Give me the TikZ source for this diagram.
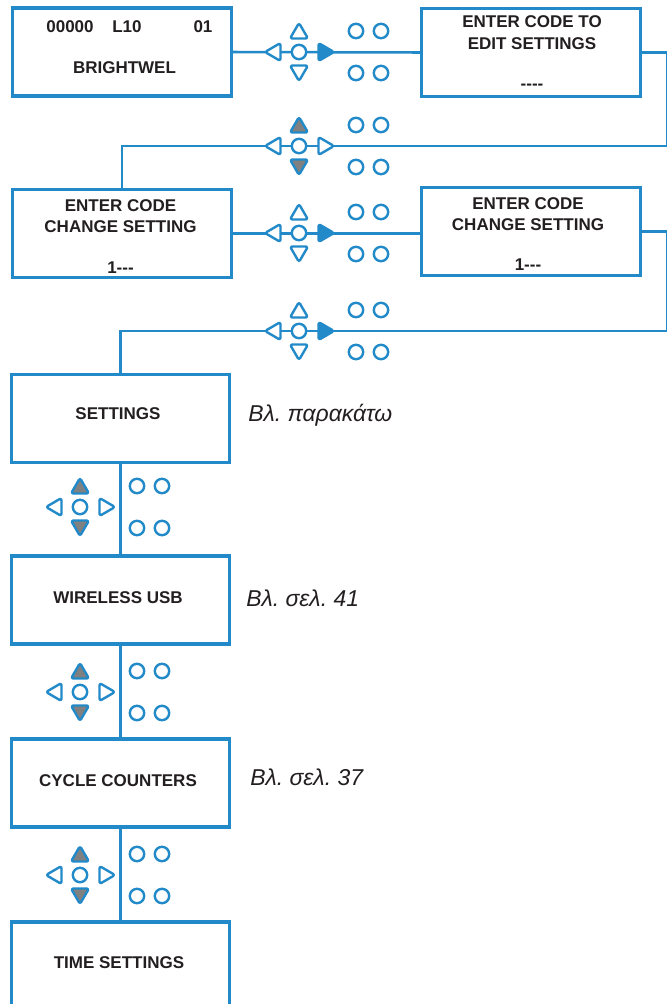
\documentclass[tikz,border=0pt]{standalone}
\usepackage{fontspec}
\setmainfont{Liberation Sans}
\frenchspacing
\definecolor{panelblue}{RGB}{34,138,200}
\definecolor{keygray}{RGB}{128,128,128}
\definecolor{ink}{RGB}{35,31,32}
\tikzset{
  box/.style={draw=panelblue,line width=2.3pt,fill=white,minimum width=164pt,minimum height=66pt,inner sep=0pt},
  wire/.style={draw=panelblue,line width=1.9pt},
  key/.style={draw=panelblue,line width=1.8pt,rounded corners=1.8pt,line join=round},
  txt/.style={font=\bfseries\fontsize{12.75}{14}\selectfont,text=ink,inner sep=0pt,anchor=base},
  note/.style={font=\itshape\fontsize{17.2}{19}\selectfont,text=ink,inner sep=0pt,anchor=base west},
}
% keypad: name, x, y, fill up, fill down, fill right
\newcommand{\keypad}[6]{%
  \coordinate (#1) at (#2,#3);
  \begin{scope}[shift={(#2,#3)}]
    \draw[key,fill=#4] (-9,-13.5) -- (9,-13.5) -- (0,-29) -- cycle;
    \draw[key,fill=#5] (-9,13.5) -- (9,13.5) -- (0,29) -- cycle;
    \draw[key,fill=white] (-18.5,-9) -- (-18.5,9) -- (-34,0) -- cycle;
    \draw[key,fill=#6] (19.5,-9) -- (19.5,9) -- (35,0) -- cycle;
    \draw[key,fill=white] (0,0) circle [radius=5.4pt];
    \draw[key] (57,-21) circle [radius=5.4pt];
    \draw[key] (82,-21) circle [radius=5.4pt];
    \draw[key] (57,21) circle [radius=5.4pt];
    \draw[key] (82,21) circle [radius=5.4pt];
  \end{scope}}
\begin{document}
\begin{tikzpicture}[x=0.75pt,y=-0.75pt]
  \useasboundingbox[fill=white] (0,0) rectangle (667,1004);
  % boxes
  \node[box] (b1) at (122,52) {};
  \node[box] (b2) at (531,52.5) {};
  \node[box] (b3) at (122,233.5) {};
  \node[box] (b4) at (531,231.5) {};
  \node[box] (b5) at (120.5,418.5) {};
  \node[box] (b6) at (120.5,600) {};
  \node[box] (b7) at (120.5,783) {};
  \node[box] (b8) at (120.5,966) {};
  % wires
  \coordinate (r2) at (299,146);
  \coordinate (r4) at (299,331);
  \draw[wire] (b1.east) -- (b2.west);
  \draw[wire] (b2.east) -- ++(25,0) |- (r2) -| (b3.north);
  \draw[wire] (b3.east) -- (b3.east -| b4.west);
  \draw[wire] (b4.east) -- ++(25,0) |- (r4) -| (b5.north);
  \draw[wire] (b5.south) -- (b6.north);
  \draw[wire] (b6.south) -- (b7.north);
  \draw[wire] (b7.south) -- (b8.north);
  % keypads
  \keypad{k1}{299}{52}{white}{white}{panelblue}
  \keypad{k2}{299}{146}{keygray}{keygray}{white}
  \keypad{k3}{299}{233}{white}{white}{panelblue}
  \keypad{k4}{299}{331}{white}{white}{panelblue}
  \keypad{k5}{80}{507}{keygray}{keygray}{white}
  \keypad{k6}{80}{692}{keygray}{keygray}{white}
  \keypad{k7}{80}{875}{keygray}{keygray}{white}
  % texts
  \node[txt] (t1a) at (70,32) {00000};
  \node[txt] (t1b) at (127,32) {L10};
  \node[txt] (t1c) at (203,32) {01};
  \node[txt] (t1d) at (124.5,73) {BRIGHTWEL};
  \node[txt] (t2a) at (532,27) {ENTER CODE TO};
  \node[txt] (t2b) at (532,49) {EDIT SETTINGS};
  \node[txt] (t2c) at (532,89) {-{}-{}-{}-};
  \node[txt] (t3a) at (120.5,211) {ENTER CODE};
  \node[txt] (t3b) at (120.5,232) {CHANGE SETTING};
  \node[txt] (t3c) at (120.5,273) {1-{}-{}-};
  \node[txt] (t4a) at (528,209) {ENTER CODE};
  \node[txt] (t4b) at (528,230) {CHANGE SETTING};
  \node[txt] (t4c) at (528,270) {1-{}-{}-};
  \node[txt] (t5) at (118,419) {SETTINGS};
  \node[txt] (t6) at (118,603) {WIRELESS USB};
  \node[txt] (t7) at (118,786) {CYCLE COUNTERS};
  \node[txt] (t8) at (119,968) {TIME SETTINGS};
  % notes
  \node[note] (n5) at (248,421) {Βλ. παρακάτω};
  \node[note] (n6) at (246,606) {Βλ. σελ. 41};
  \node[note] (n7) at (250,785) {Βλ. σελ. 37};
\end{tikzpicture}
\end{document}
